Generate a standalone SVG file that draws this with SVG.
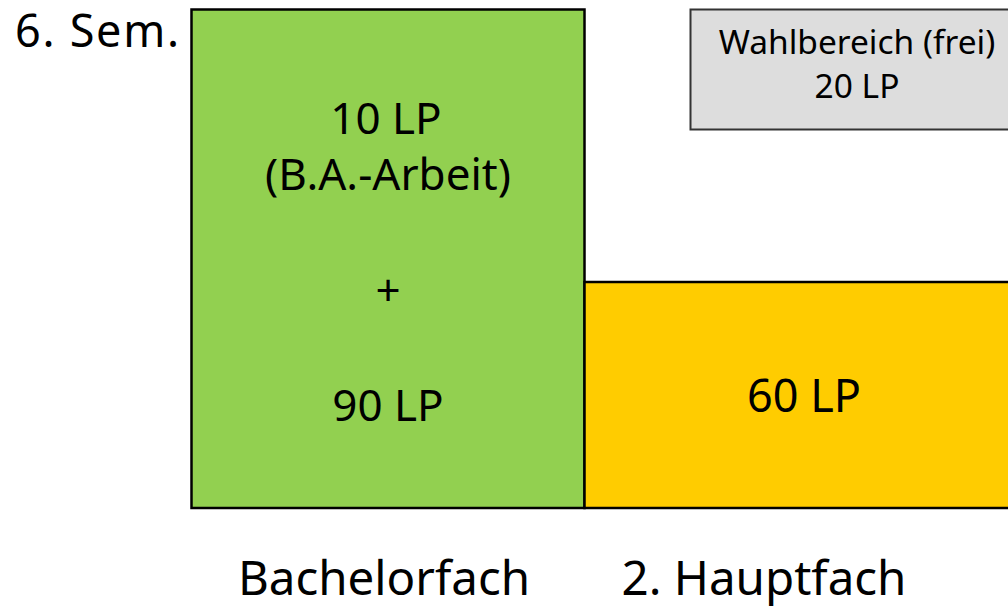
<svg xmlns="http://www.w3.org/2000/svg" width="1008" height="607" viewBox="0 0 1008 607">
<style>
text{font-family:"Noto Sans","Open Sans",sans-serif;fill:#000;text-anchor:middle}
.box{stroke:#000;stroke-width:2.5}
.m{font-size:44px}
</style>
<rect width="1008" height="607" fill="#fff"/>
<g id="sem"><text x="97" y="47" font-size="45" textLength="164" lengthAdjust="spacing">6. Sem.</text></g>
<g id="bachelor">
<rect class="box" x="191.5" y="9.5" width="393" height="498.5" fill="#92D050"/>
<text class="m" x="386" y="134">10 LP</text>
<text class="m" x="388" y="190">(B.A.-Arbeit)</text>
<text class="m" x="388" y="306">+</text>
<text class="m" x="388" y="421">90 LP</text>
</g>
<g id="haupt">
<rect class="box" x="584.5" y="282" width="430" height="226" fill="#FFCC00"/>
<text x="804" y="412" font-size="45">60 LP</text>
</g>
<g id="wahl">
<rect x="690.5" y="9.5" width="330" height="120" fill="#DDDDDD" stroke="#333" stroke-width="2"/>
<text x="857" y="54" font-size="33.5">Wahlbereich (frei)</text>
<text x="857" y="98" font-size="33.5">20 LP</text>
</g>
<g id="labels">
<text x="384" y="595" font-size="47.5">Bachelorfach</text>
<text x="764" y="595" font-size="47.5">2. Hauptfach</text>
</g>
<g id="connectors"/>
</svg>
